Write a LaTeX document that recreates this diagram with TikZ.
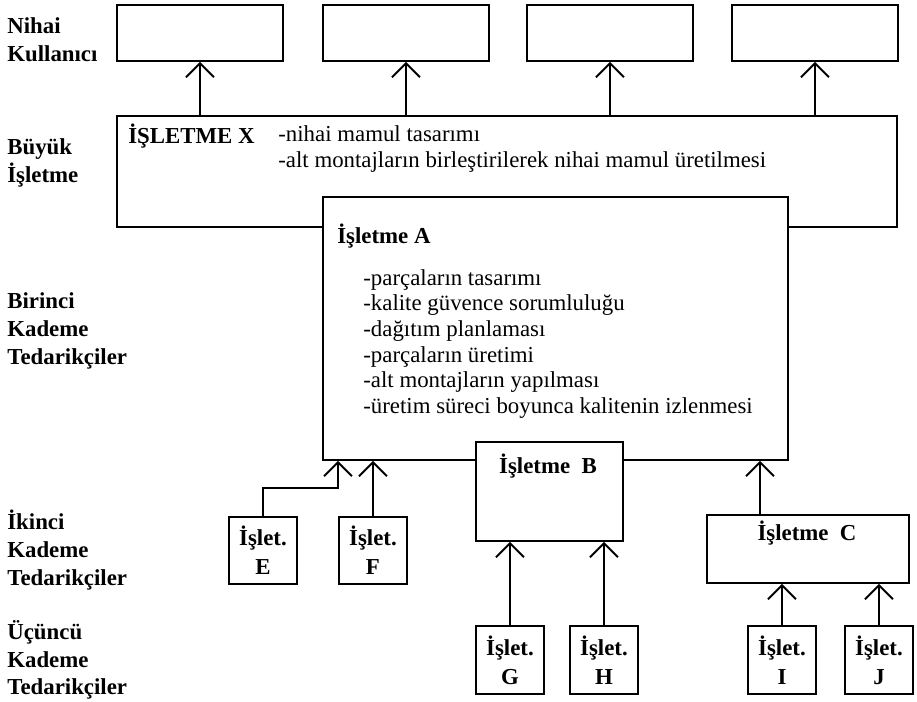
\documentclass[tikz,border=0pt]{standalone}
\usepackage{fontspec}
\setmainfont{Liberation Serif}
\usetikzlibrary{arrows.meta,positioning}

\begin{document}
\begin{tikzpicture}[x=0.02cm,y=-0.02cm,
  box/.style={draw,line width=1.1pt,fill=white,anchor=north west,inner sep=0pt},
  small/.style={box,minimum width=1.36cm,minimum height=1.36cm,align=center,
    font=\fontsize{13}{16.5}\selectfont\bfseries},
  arr/.style={line width=1.1pt,-{Straight Barb[length=2.8mm,width=5.6mm,line width=1.1pt]}},
  lbl/.style={anchor=west,align=left,inner sep=0pt,font=\fontsize{13}{15.8}\selectfont\bfseries},
  txt/.style={anchor=west,align=left,inner sep=0pt,font=\fontsize{13}{14.6}\selectfont}]
  \useasboundingbox (0,0) rectangle (917,702);

  \node[lbl] (lNihai) at (7,40) {Nihai\\Kullanıcı};
  \node[lbl] (lBuyuk) at (7,163) {Büyük\\İşletme};
  \node[lbl] (lBirinci) at (7,331) {Birinci\\Kademe\\Tedarikçiler};
  \node[lbl] (lIkinci) at (7,550) {İkinci\\Kademe\\Tedarikçiler};
  \node[lbl] (lUcuncu) at (7,660) {Üçüncü\\Kademe\\Tedarikçiler};

  \foreach \i/\xx in {1/116,2/322,3/526,4/731}
    \node[box,minimum width=3.32cm,minimum height=1.12cm] (nu\i) at (\xx,4) {};

  \node[box,minimum width=15.6cm,minimum height=2.22cm] (X) at (116,115) {};
  \node[lbl] (Xname) at (128,136) {İŞLETME X};
  \node[txt,font=\fontsize{13}{15}\selectfont] (Xlist) at (278,149) {-nihai mamul tasarımı\\
    -alt montajların birleştirilerek nihai mamul üretilmesi};

  \node[box,minimum width=9.3cm,minimum height=5.26cm] (A) at (322,196) {};
  \node[lbl] (Aname) at (337,236) {İşletme A};
  \node[txt] (Alist) at (363,344) {-parçaların tasarımı\\
    -kalite güvence sorumluluğu\\
    -dağıtım planlaması\\
    -parçaların üretimi\\
    -alt montajların yapılması\\
    -üretim süreci boyunca kalitenin izlenmesi};

  \node[box,minimum width=2.94cm,minimum height=1.98cm] (B) at (475,441) {};
  \node[lbl,anchor=center] (Bname) at (548,466) {İşletme~ B};

  \node[box,minimum width=4.04cm,minimum height=1.36cm] (C) at (706,514) {};
  \node[lbl,anchor=center] (Cname) at (807,533) {İşletme~ C};

  \node[small,minimum height=1.34cm] (E) at (228,516) {İşlet.\\E};
  \node[small,minimum height=1.34cm] (F) at (338,516) {İşlet.\\F};
  \node[small] (G) at (475,625) {İşlet.\\G};
  \node[small] (H) at (569,625) {İşlet.\\H};
  \node[small] (I) at (747,625) {İşlet.\\I};
  \node[small] (J) at (844,625) {İşlet.\\J};

  \foreach \i in {1,...,4}
    \draw[arr] (nu\i.south |- X.north) -- (nu\i.south);

  \coordinate (Ein) at ([xshift=0.32cm]A.south west);
  \coordinate (Cout) at ([xshift=1.08cm]C.north west);
  \draw[arr] (E.north) -- ++(0,-28) -| (Ein);
  \draw[arr] (F.north) -- (F.north |- A.south);
  \draw[arr] (G.north) -- (G.north |- B.south);
  \draw[arr] (H.north) -- (H.north |- B.south);
  \draw[arr] (Cout) -- (Cout |- A.south);
  \draw[arr] (I.north) -- (I.north |- C.south);
  \draw[arr] (J.north) -- (J.north |- C.south);
\end{tikzpicture}
\end{document}
